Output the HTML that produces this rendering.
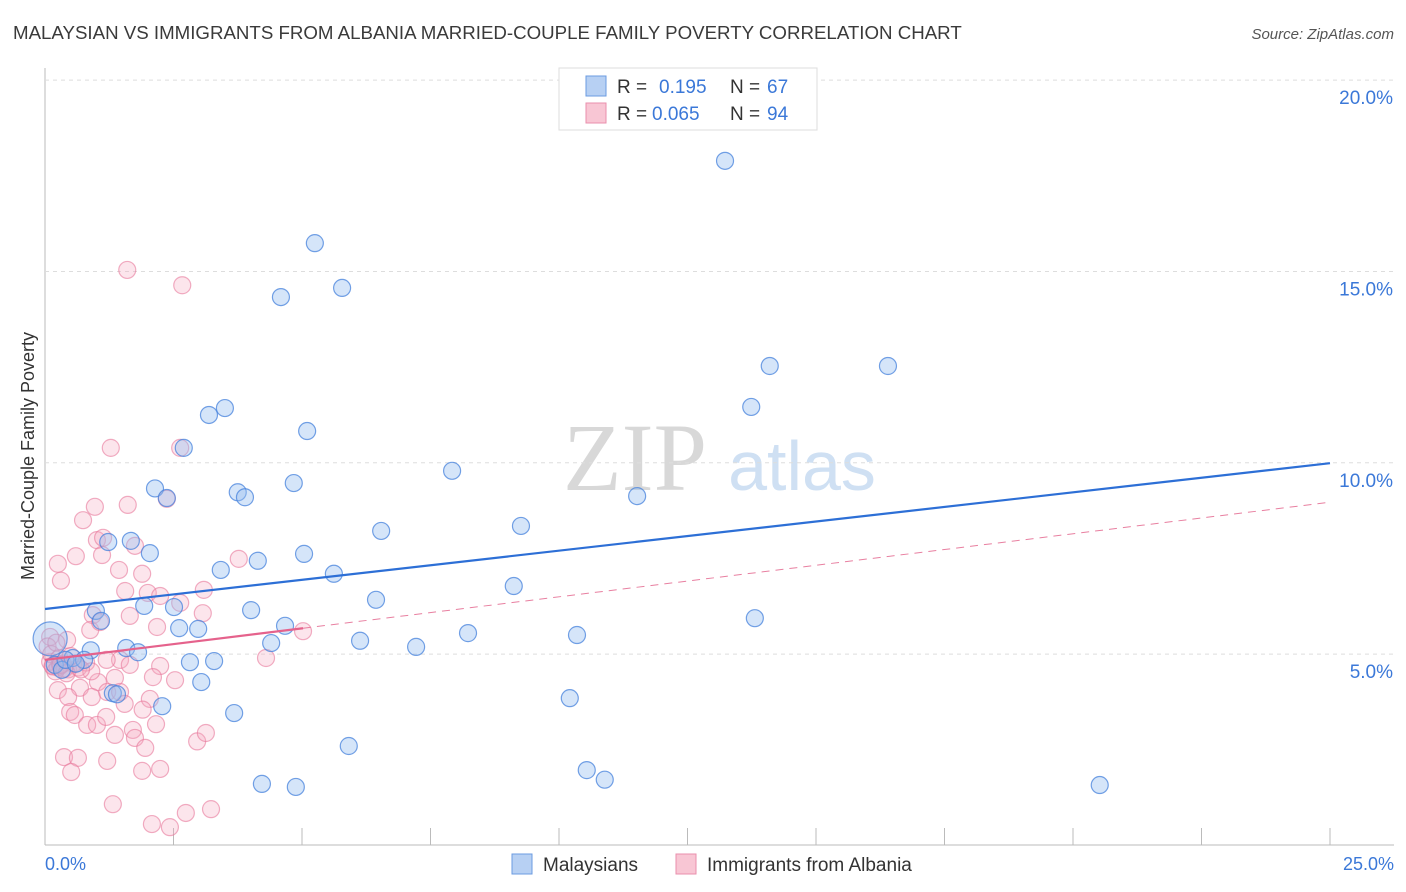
<!DOCTYPE html>
<html><head><meta charset="utf-8"><style>
body{margin:0;background:#fff;font-family:"Liberation Sans",sans-serif;}
svg{display:block}
</style></head><body>
<svg id="chart" width="1406" height="892">
<text x="13" y="39" font-size="18.7" fill="#3a3a3a">MALAYSIAN VS IMMIGRANTS FROM ALBANIA MARRIED-COUPLE FAMILY POVERTY CORRELATION CHART</text>
<text x="1394" y="39" font-size="15" fill="#555" font-style="italic" text-anchor="end">Source: ZipAtlas.com</text>
<text x="635" y="490" font-size="96" fill="#d8d8d8" font-family="Liberation Serif,serif" text-anchor="middle">ZIP</text>
<text x="802" y="490" font-size="70" fill="#cfe0f3" text-anchor="middle">atlas</text>
<g id="grid"></g>
<g id="pts"></g>
<g id="lines"></g>
<text transform="translate(34,456) rotate(-90)" font-size="18" fill="#333" text-anchor="middle">Married-Couple Family Poverty</text>
<text x="45" y="870" font-size="18" fill="#3b78d8">0.0%</text>
<text x="1394" y="870" font-size="18" fill="#3b78d8" text-anchor="end">25.0%</text>
<g>
<rect x="559" y="68" width="258" height="62" fill="#fff" stroke="#ddd"/>
<rect x="586" y="76" width="20" height="20" fill="#b7d0f3" stroke="#6b9be0"/>
<rect x="586" y="103" width="20" height="20" fill="#f8c6d4" stroke="#ea8fac"/>
<text x="617" y="93" font-size="19" fill="#333">R = </text><text x="659" y="93" font-size="19" fill="#3b78d8">0.195</text>
<text x="730" y="93" font-size="19" fill="#333">N = </text><text x="767" y="93" font-size="19" fill="#3b78d8">67</text>
<text x="617" y="120" font-size="19" fill="#333">R = </text><text x="652" y="120" font-size="19" fill="#3b78d8">0.065</text>
<text x="730" y="120" font-size="19" fill="#333">N = </text><text x="767" y="120" font-size="19" fill="#3b78d8">94</text>
</g>
<g>
<rect x="512" y="854" width="20" height="20" fill="#b7d0f3" stroke="#6b9be0"/>
<text x="543" y="871" font-size="19" fill="#333">Malaysians</text>
<rect x="676" y="854" width="20" height="20" fill="#f8c6d4" stroke="#ea8fac"/>
<text x="707" y="871" font-size="19" fill="#333">Immigrants from Albania</text>
</g>
</svg>
<script>
const yTicks=[5,10,15,20];
const yTickLabels=["5.0%","10.0%","15.0%","20.0%"];
const xTicks=[0,2.5,5,7.5,10,12.5,15,17.5,20,22.5,25];
const blueX=[13.23,5.25,4.59,5.78,14.10,16.40,13.74,3.50,3.19,5.10,2.70,7.92,2.14,3.75,4.84,3.89,2.37,11.52,9.26,6.54,1.23,1.67,2.04,5.04,4.14,3.42,5.62,9.12,6.44,1.93,2.51,4.01,0.99,1.09,13.81,2.61,2.98,4.67,8.23,10.35,6.13,4.40,1.58,7.22,1.81,0.89,0.1,0.54,0.76,2.82,3.29,0.19,0.33,3.04,1.32,2.28,10.21,3.68,5.91,10.54,10.89,4.22,4.88,20.52,0.4,1.4,0.6];
const blueY=[17.89,15.74,14.33,14.57,12.53,12.53,11.46,11.43,11.25,10.83,10.39,9.79,9.33,9.23,9.47,9.10,9.08,9.13,8.35,8.22,7.93,7.96,7.64,7.62,7.44,7.20,7.10,6.78,6.42,6.26,6.23,6.15,6.13,5.87,5.94,5.68,5.66,5.74,5.55,5.50,5.35,5.29,5.16,5.19,5.05,5.10,5.4,4.90,4.85,4.79,4.82,4.72,4.59,4.27,3.98,3.64,3.85,3.46,2.60,1.97,1.72,1.61,1.53,1.58,4.85,3.95,4.75];
const pinkX=[1.60,2.67,1.28,2.63,0.97,0.74,1.61,2.37,1.01,1.13,1.11,1.75,0.60,0.25,0.31,1.44,1.89,1.56,2.00,2.24,2.63,3.09,3.77,3.07,1.65,2.18,0.93,0.88,1.07,5.02,4.30,0.43,0.10,1.46,1.65,2.24,2.10,2.53,1.36,1.03,0.68,0.25,0.45,0.91,1.21,1.46,2.04,0.49,0.58,0.82,1.01,1.19,1.36,1.71,1.75,1.95,2.16,2.96,3.13,0.37,0.64,0.51,1.21,1.89,2.24,1.32,2.08,2.43,2.74,3.23,0.15,0.25,0.35,0.45,0.1,0.2,0.3,0.55,0.65,0.05,0.12,0.28,0.38,0.8,0.9,1.2,0.15,0.3,0.42,0.22,0.5,0.7,1.55,1.9];
const pinkY=[15.04,14.64,10.39,10.39,8.85,8.50,8.90,9.06,7.98,8.04,7.59,7.83,7.56,7.36,6.92,7.20,7.10,6.65,6.60,6.52,6.34,6.68,7.49,6.07,6.00,5.71,6.02,5.63,5.84,5.60,4.90,5.37,5.45,4.85,4.72,4.69,4.40,4.32,4.38,4.27,4.12,4.06,3.88,3.88,4.01,4.01,3.83,3.49,3.41,3.15,3.15,3.36,2.89,3.02,2.81,2.55,3.17,2.72,2.94,2.31,2.29,1.92,2.21,1.95,2.00,1.08,0.56,0.48,0.85,0.95,4.7,4.65,4.75,4.6,4.8,4.55,4.7,4.75,4.65,5.2,5.0,4.9,4.62,4.78,4.55,4.85,4.68,4.72,4.5,5.3,4.95,4.6,3.7,3.55];
const blueTrend=[6.18,9.99];
const pinkTrend=[4.85,8.97];
const pinkSolidEnd=5.02;
const X=v=>45+v/25*1285, Y=v=>845.5-v*38.27;
const NS="http://www.w3.org/2000/svg";
function mk(tag,attrs,parent){const e=document.createElementNS(NS,tag);for(const k in attrs)e.setAttribute(k,attrs[k]);parent.appendChild(e);return e;}
const grid=document.getElementById('grid'),pts=document.getElementById('pts'),lines=document.getElementById('lines');
mk('line',{x1:45,y1:68,x2:45,y2:845,stroke:'#bbb'},grid);
mk('line',{x1:45,y1:845,x2:1394,y2:845,stroke:'#bbb'},grid);
yTicks.forEach((t,i)=>{
 const l=mk('line',{x1:45,y1:Y(t),x2:1394,y2:Y(t),stroke:'#ddd','stroke-dasharray':'4,4'},grid);
 
 
 const tx=mk('text',{x:1393,y:Y(t)+24,'font-size':19,fill:'#3b78d8','text-anchor':'end'},grid);
 tx.textContent=yTickLabels[i];
 
 
});
xTicks.forEach(t=>{
 const l=mk('line',{x1:X(t),y1:828,x2:X(t),y2:845,stroke:'#bbb'},grid);
 
 
});
pinkX.forEach((x,i)=>{
 const c=mk('circle',{cx:X(x),cy:Y(pinkY[i]),r:8.5,fill:'rgba(246,170,192,0.3)',stroke:'rgba(232,120,155,0.6)','stroke-width':1.2},pts);
 
 
});
blueX.forEach((x,i)=>{
 const big=(i===46);
 const c=mk('circle',{cx:X(x),cy:Y(blueY[i]),r:big?17:8.5,fill:'rgba(150,190,240,0.4)',stroke:'rgba(70,130,220,0.75)','stroke-width':1.2},pts);
 
 
});
const bl=mk('line',{x1:X(0),y1:Y(blueTrend[0]),x2:X(25),y2:Y(blueTrend[1]),stroke:'#2d6fd6','stroke-width':2.2},lines);


const pyAt=x=>pinkTrend[0]+(pinkTrend[1]-pinkTrend[0])*x/25;
const pd=mk('line',{x1:X(pinkSolidEnd),y1:Y(pyAt(pinkSolidEnd)),x2:X(25),y2:Y(pinkTrend[1]),stroke:'#e87fa0','stroke-width':1,'stroke-dasharray':'8,6'},lines);


const ps=mk('line',{x1:X(0),y1:Y(pinkTrend[0]),x2:X(pinkSolidEnd),y2:Y(pyAt(pinkSolidEnd)),stroke:'#e5628c','stroke-width':2.2},lines);


</script>
</body></html>
